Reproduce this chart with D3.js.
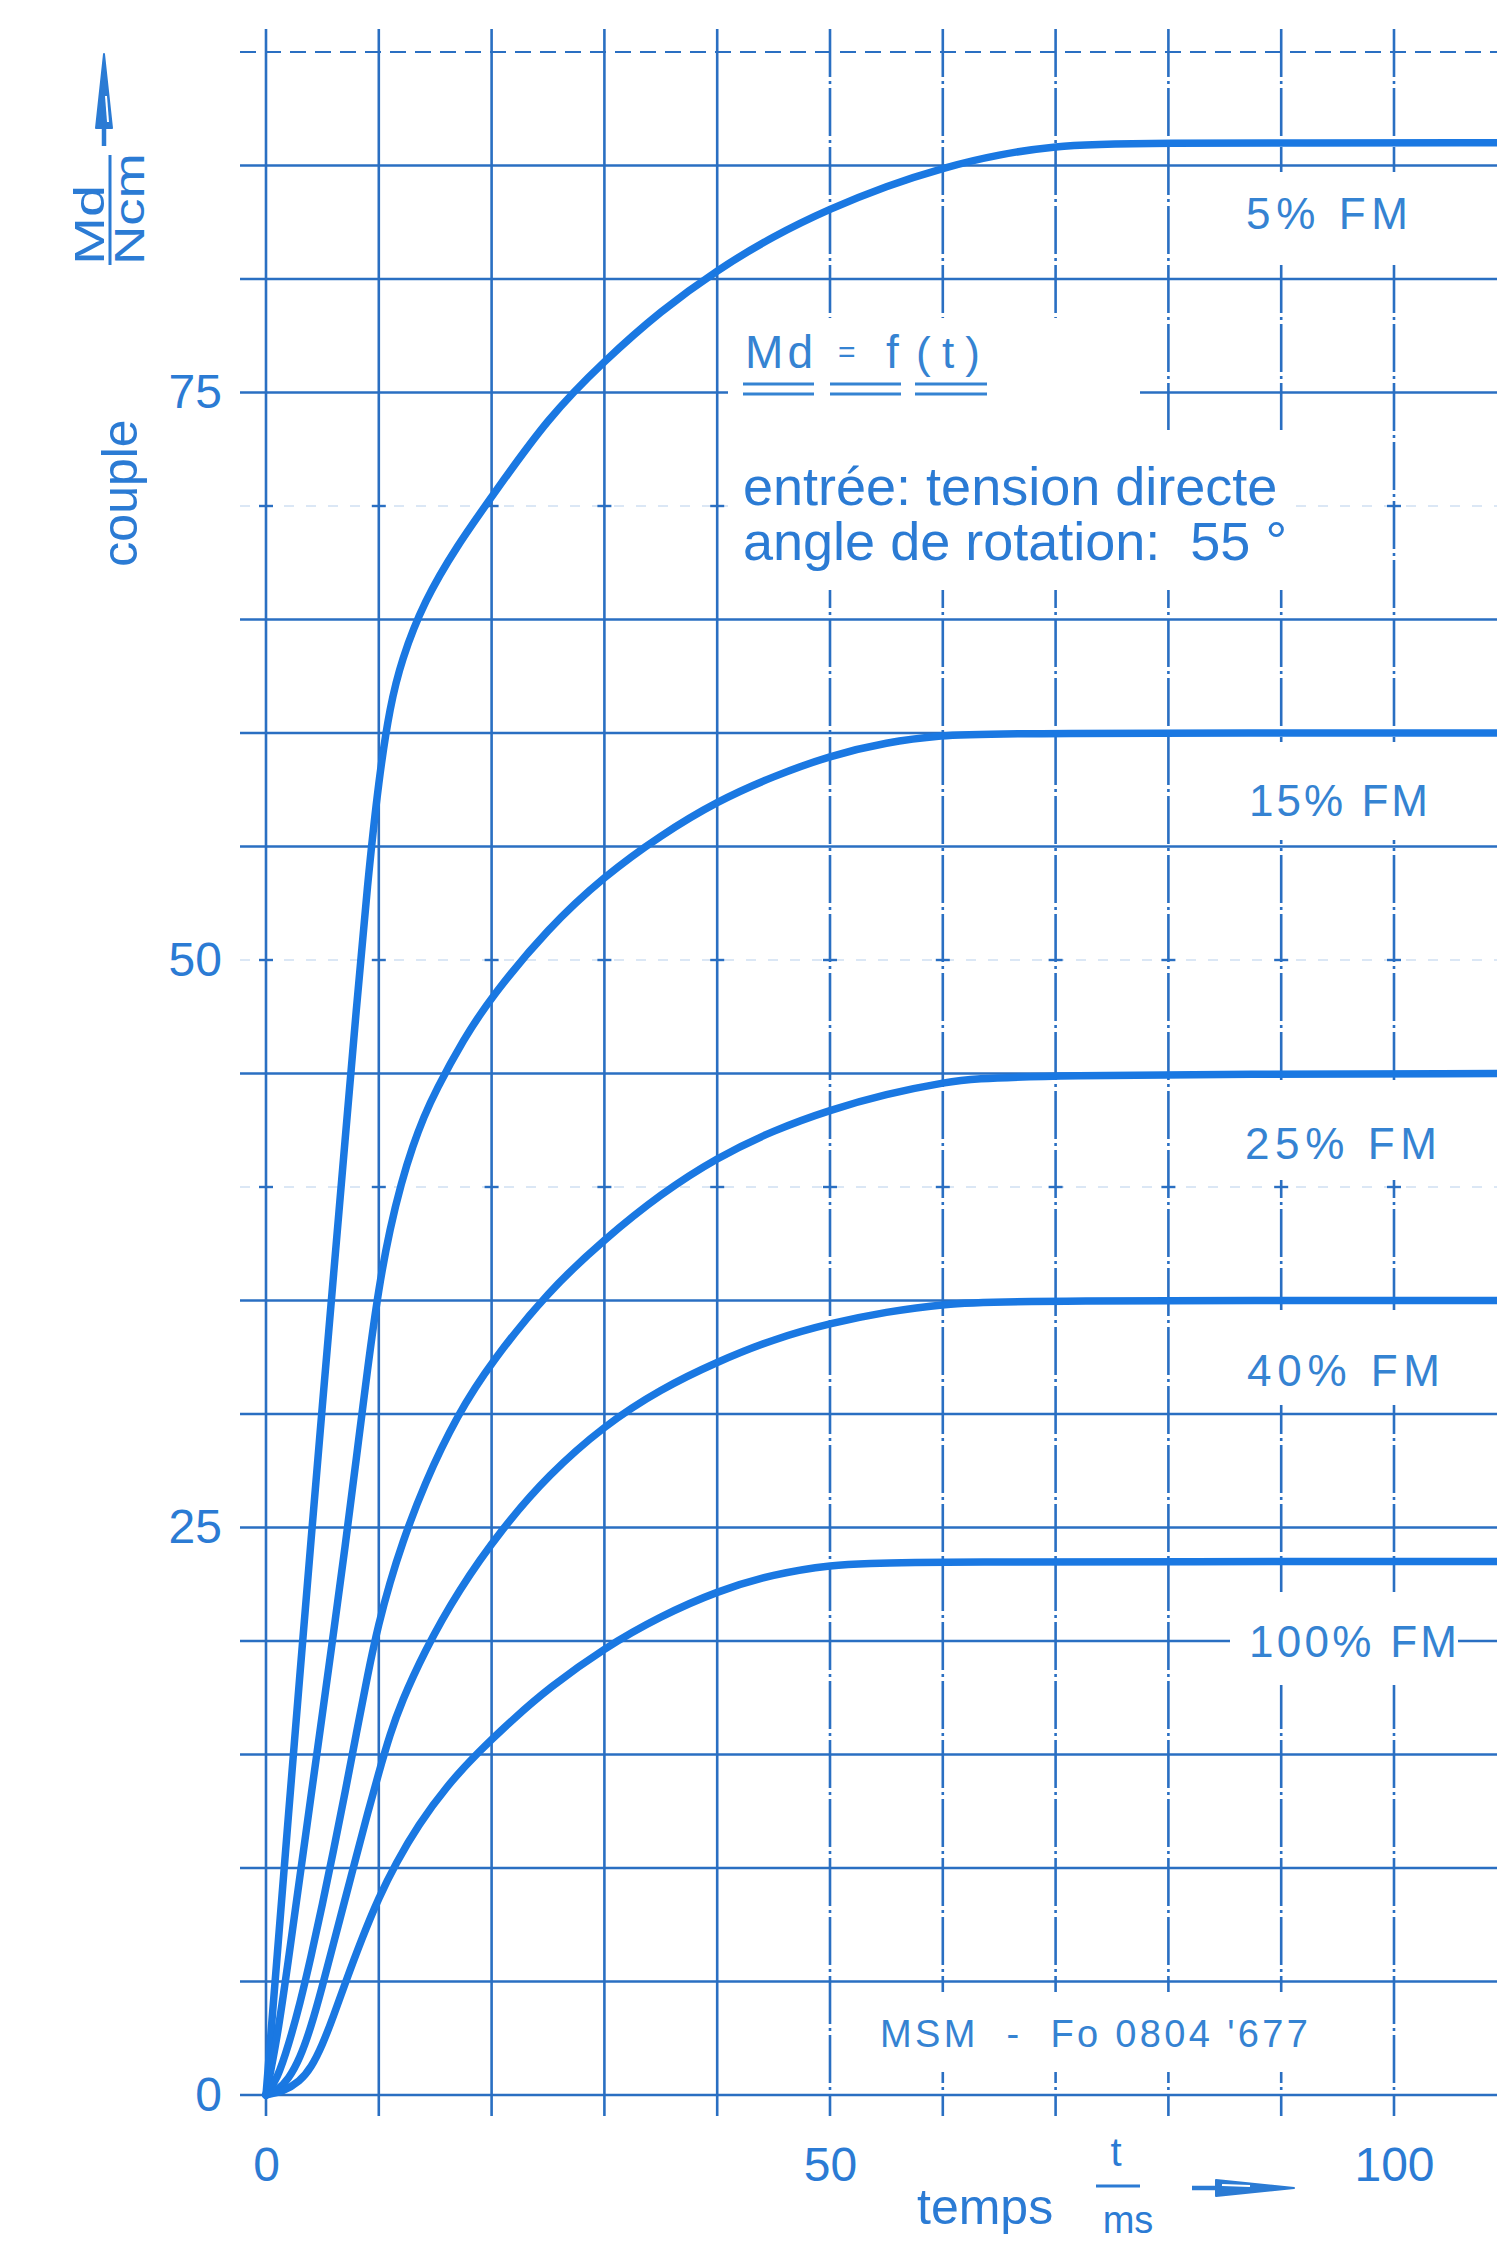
<!DOCTYPE html>
<html>
<head>
<meta charset="utf-8">
<script src="https://cdn.jsdelivr.net/npm/d3@7"></script>
<style>
  html, body { margin: 0; padding: 0; background: #ffffff; }
  svg { display: block; }
</style>
</head>
<body>
<svg id="chart" width="1497" height="2242"></svg>
<script>
// Torque build-up Md = f(t) of a rotary solenoid, one curve per duty cycle (FM)
const seriesNames = ["5% FM", "15% FM", "25% FM", "40% FM", "100% FM"];

// [t in ms, Md in Ncm]
const fm5 = [[0,0],[1,6.2],[2,12.4],[3,18.5],[4,24.5],[5,30.4],[6,36.2],[7,42],[8,47.8],[9,53.4],
  [10,58],[11,61.2],[12,63.2],[14,65.8],[17,68.3],[20,70.4],[25,73.9],[30,76.4],[35,78.6],
  [40,80.4],[45,81.9],[50,83.1],[55,84.1],[60,84.9],[65,85.5],[70,85.85],[75,86],[112,86]];
const fm15 = [[0,0],[1,2.5],[2,6],[3,9.6],[4,13.2],[5,16.8],[6,20.4],[7,24.1],[8,28],[9,32],
  [10,35.6],[11,38.2],[12,40.2],[13,41.8],[14,43.1],[15,44.2],[17.5,46.5],[20,48.4],[25,51.4],
  [30,53.7],[35,55.5],[40,57],[45,58.1],[50,59],[55,59.6],[60,59.9],[64,60],[112,60]];
const fm25 = [[0,0],[1,0.7],[2,2.2],[3,4],[4,6.1],[5,8.4],[6,10.8],[7,13.3],[8,15.9],[9,18.5],
  [10,20.8],[11,22.6],[12,24.2],[14,26.9],[17,30],[20,32.3],[25,35.4],[30,37.7],[35,39.7],
  [40,41.3],[45,42.5],[50,43.4],[55,44.1],[60,44.6],[65,44.95],[112,45]];
const fm40 = [[0,0],[1,0.2],[2,0.7],[3,1.6],[4,3],[5,4.8],[6,6.7],[7,8.6],[8,10.5],[9,12.4],
  [10,14.2],[11,15.9],[12,17.3],[14,19.5],[17,22.2],[21,25],[25,27.3],[30,29.5],[35,31.1],
  [40,32.3],[45,33.3],[50,34],[55,34.5],[60,34.85],[66,35],[112,35]];
const fm100 = [[0,0],[1.5,0.15],[3,0.6],[4,1.2],[5,2.2],[6,3.5],[7,4.9],[8.5,6.9],[10,8.7],
  [11.5,10.2],[13.5,11.9],[16,13.6],[18.8,15.1],[22,16.6],[25,17.9],[30,19.7],[35,21.1],
  [40,22.2],[45,22.95],[50,23.35],[55,23.5],[112,23.5]];
const seriesData = [fm5, fm15, fm25, fm40, fm100];

const xTickValues = [0, 50, 100];
const yTickValues = [0, 25, 50, 75];
const xGridValues = [0, 10, 20, 30, 40, 50, 60, 70, 80, 90, 100];
const yGridValues = [0, 5, 10, 15, 20, 25, 30, 35, 40, 45, 50, 55, 60, 65, 70, 75, 80, 85, 90];

const formulaParts = ["Md", "=", "f", "(t)"];
const noteLines = ["entrée: tension directe", "angle de rotation:  55 °"];
const drawingRef = "MSM  -  Fo 0804 '677";
const yTitle = "couple", yUnitNum = "Md", yUnitDen = "Ncm";
const xTitle = "temps", xUnitNum = "t", xUnitDen = "ms";

// ---- drawing ----
const gridColor = "#2a6fc2";
const curveColor = "#1a78e2";
const textColor = "#2b7bd4";
const labelColor = "#3583d2";
const sans = "'Liberation Sans', Arial, Helvetica, sans-serif";

const svg = d3.select("#chart");
svg.append("rect").attr("width", 1497).attr("height", 2242).attr("fill", "#ffffff");

const x = d3.scaleLinear().domain([0, 100]).range([266, 1394]);
const y = d3.scaleLinear().domain([0, 75]).range([2095, 392.5]);

// grid: a few rows are printed only as crosses at the intersections
const faintRows = new Set([40, 50, 70]);
const grid = svg.append("g");
grid.selectAll("line.h").data(yGridValues).join("line")
  .attr("x1", 240).attr("x2", 1497)
  .attr("y1", d => y(d)).attr("y2", d => y(d))
  .attr("stroke", gridColor)
  .attr("stroke-width", d => d === 90 ? 2.2 : faintRows.has(d) ? 1.6 : 2.6)
  .attr("stroke-opacity", d => faintRows.has(d) ? 0.22 : 1)
  .attr("stroke-dasharray", d => d === 90 ? "16 9" : faintRows.has(d) ? "10 12" : null);
const crosses = [];
yGridValues.filter(v => faintRows.has(v)).forEach(v => xGridValues.forEach(t => crosses.push([t, v])));
grid.selectAll("line.c").data(crosses).join("line")
  .attr("x1", d => x(d[0]) - 7).attr("x2", d => x(d[0]) + 7)
  .attr("y1", d => y(d[1])).attr("y2", d => y(d[1]))
  .attr("stroke", gridColor).attr("stroke-width", 2.4);
grid.selectAll("line.v").data(xGridValues).join("line")
  .attr("x1", d => x(d)).attr("x2", d => x(d))
  .attr("y1", y(90) - 23).attr("y2", y(0) + 21)
  .attr("stroke", gridColor)
  .attr("stroke-width", 2.6)
  .attr("stroke-dasharray", d => d >= 50 ? "48 4 3 4" : null);

// clear areas behind the annotations
const clearings = [
  [728, 318, 412, 112],
  [728, 430, 562, 160],
  [1215, 172, 255, 90],
  [1215, 742, 255, 98],
  [1215, 1083, 255, 97],
  [1215, 1310, 255, 95],
  [1230, 1592, 228, 93],
  [872, 1992, 440, 80]
];
svg.append("g").selectAll("rect").data(clearings).join("rect")
  .attr("x", d => d[0]).attr("y", d => d[1])
  .attr("width", d => d[2]).attr("height", d => d[3])
  .attr("fill", "#ffffff");

// curves
const line = d3.line()
  .x(d => x(d[0])).y(d => y(d[1]))
  .curve(d3.curveBasis);
svg.append("g").selectAll("path").data(seriesData).join("path")
  .attr("d", line)
  .attr("fill", "none")
  .attr("stroke", curveColor)
  .attr("stroke-width", 7.5)
  .attr("stroke-linejoin", "round")
  .attr("stroke-linecap", "round");

// axes (tick labels only)
const yAxis = d3.axisLeft(y).tickValues(yTickValues).tickSize(0).tickPadding(0);
const gy = svg.append("g").attr("transform", "translate(222,0)").call(yAxis);
gy.select(".domain").remove();
gy.selectAll("text").attr("fill", textColor).attr("font-family", sans).attr("font-size", 48);

const xAxis = d3.axisBottom(x).tickValues(xTickValues).tickSize(0).tickPadding(0);
const gx = svg.append("g").attr("transform", "translate(0,2147)").call(xAxis);
gx.select(".domain").remove();
gx.selectAll("text").attr("fill", textColor).attr("font-family", sans).attr("font-size", 48);

// curve labels
const labelPos = [
  { x: 1246, y: 229, w: 162 },
  { x: 1249, y: 816, w: 179 },
  { x: 1245, y: 1159, w: 192 },
  { x: 1247, y: 1386, w: 193 },
  { x: 1249, y: 1657, w: 208 }
];
svg.append("g").selectAll("text").data(seriesNames).join("text")
  .attr("x", (d, i) => labelPos[i].x).attr("y", (d, i) => labelPos[i].y)
  .attr("textLength", (d, i) => labelPos[i].w)
  .attr("lengthAdjust", "spacing")
  .attr("font-family", sans).attr("font-size", 44)
  .attr("fill", labelColor)
  .text(d => d);

// formula with double underlines
const formulaLayout = [
  { x: 745, size: 46, w: 68, y: 368 },
  { x: 838, size: 30, w: 18, y: 362 },
  { x: 886, size: 46, w: 12, y: 368 },
  { x: 916, size: 44, w: 64, y: 368 }
];
svg.append("g").selectAll("text").data(formulaParts).join("text")
  .attr("x", (d, i) => formulaLayout[i].x).attr("y", (d, i) => formulaLayout[i].y)
  .attr("textLength", (d, i) => formulaLayout[i].w).attr("lengthAdjust", "spacing")
  .attr("font-family", sans).attr("font-size", (d, i) => formulaLayout[i].size)
  .attr("fill", labelColor)
  .text(d => d);
const underlines = [[743, 814], [830, 901], [915, 987]];
const ul = svg.append("g").attr("stroke", labelColor).attr("stroke-width", 3);
underlines.forEach(u => {
  ul.append("line").attr("x1", u[0]).attr("x2", u[1]).attr("y1", 384).attr("y2", 384);
  ul.append("line").attr("x1", u[0]).attr("x2", u[1]).attr("y1", 394).attr("y2", 394);
});

// operating conditions
svg.append("g").selectAll("text").data(noteLines).join("text")
  .attr("x", 743).attr("y", (d, i) => 505 + i * 55)
  .attr("font-family", sans).attr("font-size", 54)
  .attr("fill", textColor)
  .style("white-space", "pre")
  .text(d => d);

// drawing reference
svg.append("text")
  .attr("x", 880).attr("y", 2047)
  .attr("textLength", 428).attr("lengthAdjust", "spacing")
  .attr("font-family", sans).attr("font-size", 38)
  .attr("fill", labelColor)
  .style("white-space", "pre")
  .text(drawingRef);

// y axis title, unit and arrow
svg.append("text")
  .attr("transform", "translate(137,493) rotate(-90)")
  .attr("text-anchor", "middle")
  .attr("font-family", sans).attr("font-size", 50)
  .attr("fill", textColor)
  .text(yTitle);

const yUnit = svg.append("g").attr("transform", "translate(110,265) rotate(-90)");
yUnit.append("text").attr("x", 0).attr("y", -6)
  .attr("textLength", 80).attr("lengthAdjust", "spacingAndGlyphs")
  .attr("font-family", sans).attr("font-size", 42).attr("fill", textColor).text(yUnitNum);
yUnit.append("line").attr("x1", 0).attr("x2", 110).attr("y1", 0).attr("y2", 0)
  .attr("stroke", textColor).attr("stroke-width", 3);
yUnit.append("text").attr("x", 0).attr("y", 34)
  .attr("textLength", 112).attr("lengthAdjust", "spacingAndGlyphs")
  .attr("font-family", sans).attr("font-size", 42).attr("fill", textColor).text(yUnitDen);

const ya = svg.append("g");
ya.append("line").attr("x1", 104).attr("x2", 104).attr("y1", 120).attr("y2", 146)
  .attr("stroke", textColor).attr("stroke-width", 4.5);
ya.append("path").attr("d", "M104,54 L112,128 L96,128 Z")
  .attr("fill", textColor).attr("stroke", textColor).attr("stroke-width", 2)
  .attr("stroke-linejoin", "round");
ya.append("line").attr("x1", 106).attr("x2", 108).attr("y1", 96).attr("y2", 122)
  .attr("stroke", "#ffffff").attr("stroke-width", 2);

// x axis title, unit and arrow
svg.append("text")
  .attr("x", 917).attr("y", 2224)
  .attr("font-family", sans).attr("font-size", 50)
  .attr("fill", textColor)
  .text(xTitle);
svg.append("text").attr("x", 1116).attr("y", 2166).attr("text-anchor", "middle")
  .attr("font-family", sans).attr("font-size", 40).attr("fill", textColor).text(xUnitNum);
svg.append("line").attr("x1", 1096).attr("x2", 1140).attr("y1", 2186).attr("y2", 2186)
  .attr("stroke", textColor).attr("stroke-width", 3);
svg.append("text").attr("x", 1128).attr("y", 2233).attr("text-anchor", "middle")
  .attr("font-family", sans).attr("font-size", 38).attr("fill", textColor).text(xUnitDen);

const xa = svg.append("g");
xa.append("line").attr("x1", 1192).attr("x2", 1222).attr("y1", 2188).attr("y2", 2188)
  .attr("stroke", textColor).attr("stroke-width", 4.5);
xa.append("path").attr("d", "M1294,2188 L1216,2180 L1216,2196 Z")
  .attr("fill", textColor).attr("stroke", textColor).attr("stroke-width", 2)
  .attr("stroke-linejoin", "round");
xa.append("line").attr("x1", 1222).attr("x2", 1250).attr("y1", 2185).attr("y2", 2186)
  .attr("stroke", "#ffffff").attr("stroke-width", 2);
</script>
</body>
</html>
